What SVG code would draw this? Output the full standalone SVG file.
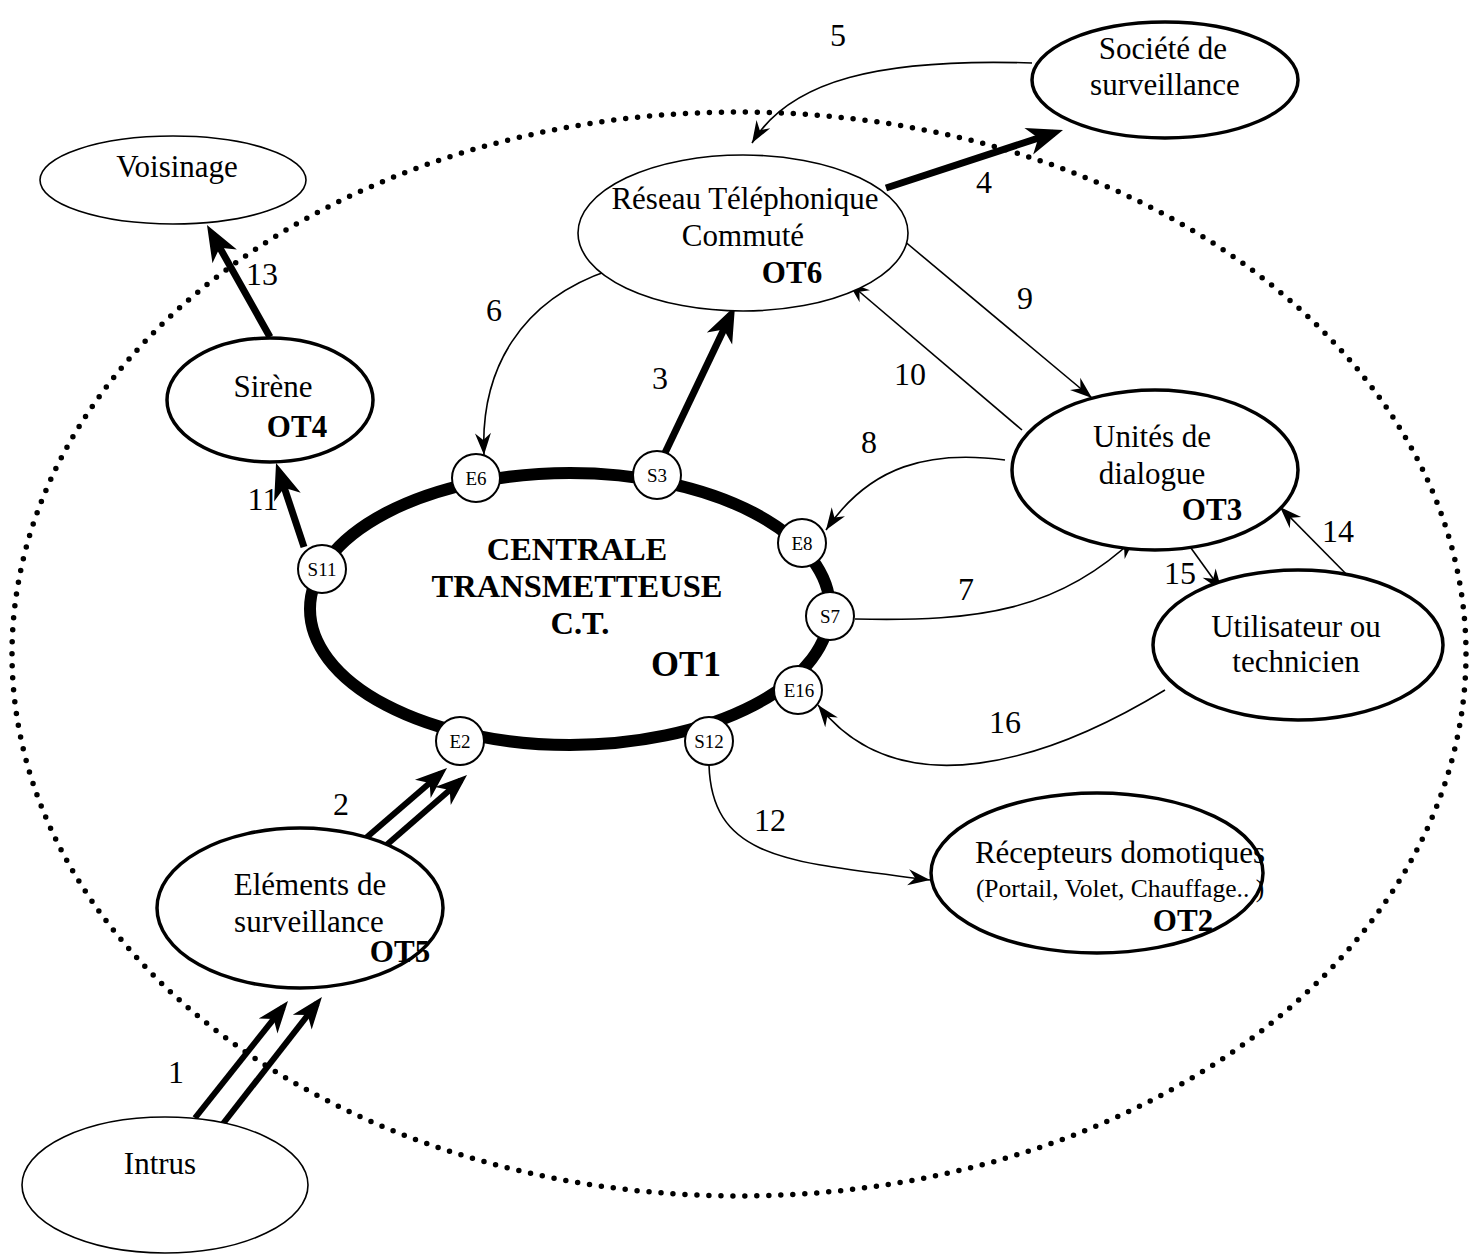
<svg xmlns="http://www.w3.org/2000/svg" width="1474" height="1257" viewBox="0 0 1474 1257">
<style>
text{font-family:"Liberation Serif","Times New Roman",serif;fill:#000;text-anchor:middle}
.t{font-size:31px}
.b{font-size:31px;font-weight:bold}
.c{font-size:32.5px;font-weight:bold}
.p{font-size:19px}
.n{font-size:32px}
.thin{fill:#fff;stroke:#000;stroke-width:1.6}
.thick{fill:#fff;stroke:#000;stroke-width:3.5}
.port{fill:#fff;stroke:#000;stroke-width:2}
.ln{fill:none;stroke:#000;stroke-width:1.6}
.tk{fill:none;stroke:#000;stroke-width:7}
.db{fill:none;stroke:#000;stroke-width:6}
</style>
<defs>
<marker id="ah" markerUnits="userSpaceOnUse" viewBox="-24 -10 26 20" markerWidth="26" markerHeight="20" refX="0" refY="0" orient="auto"><path d="M0,0 L-22,-8 L-15,0 L-22,8 Z" fill="#000"/></marker>
<marker id="ahk" markerUnits="userSpaceOnUse" viewBox="-30 -16 44 32" markerWidth="44" markerHeight="32" refX="0" refY="0" orient="auto"><path d="M10,0 L-26,-14 L-16,0 L-26,14 Z" fill="#000"/></marker>
<marker id="ahd" markerUnits="userSpaceOnUse" viewBox="-26 -13 36 26" markerWidth="36" markerHeight="26" refX="0" refY="0" orient="auto"><path d="M8,0 L-24,-12 L-15,0 L-24,12 Z" fill="#000"/></marker>
</defs>
<rect width="1474" height="1257" fill="#fff"/>
<ellipse cx="739" cy="654" rx="727" ry="542" fill="none" stroke="#000" stroke-width="5.5" stroke-dasharray="0 12" stroke-linecap="round"/>

<g id="connectors">
<path class="db" d="M195,1118 L283,1007.3" marker-end="url(#ahd)"/>
<path class="db" d="M222,1125 L317,1003.3" marker-end="url(#ahd)"/>
<path class="db" d="M352,850 L441,773.2" marker-end="url(#ahd)"/>
<path class="db" d="M375,855 L461,780.2" marker-end="url(#ahd)"/>
<path class="tk" d="M664,455 L730.7,315" marker-end="url(#ahk)"/>
<path class="tk" d="M886,188 L1053.5,133.1" marker-end="url(#ahk)"/>
<path class="tk" d="M304,547 L279.2,472.5" marker-end="url(#ahk)"/>
<path class="tk" d="M270,337 L211.9,233.7" marker-end="url(#ahk)"/>
<path class="ln" d="M1032,63 C880,58 790,80 752,143" marker-end="url(#ah)"/>
<path class="ln" d="M610,270 C520,300 480,370 484,455" marker-end="url(#ah)"/>
<path class="ln" d="M855,619 C980,622 1060,610 1135,538" marker-end="url(#ah)"/>
<path class="ln" d="M1005,460 C930,450 870,465 826,530" marker-end="url(#ah)"/>
<path class="ln" d="M903,240 L1092,398" marker-end="url(#ah)"/>
<path class="ln" d="M1022,430 L848,282" marker-end="url(#ah)"/>
<path class="ln" d="M709,765 C712,860 790,862 930,880" marker-end="url(#ah)"/>
<path class="ln" d="M1358,586 L1280,507" marker-end="url(#ah)"/>
<path class="ln" d="M1183,537 L1222,591" marker-end="url(#ah)"/>
<path class="ln" d="M1165,690 C1050,760 900,810 818,705" marker-end="url(#ah)"/>
<text class="n" x="176" y="1083">1</text>
<text class="n" x="341" y="815">2</text>
<text class="n" x="660" y="389">3</text>
<text class="n" x="984" y="193">4</text>
<text class="n" x="838" y="46">5</text>
<text class="n" x="494" y="321">6</text>
<text class="n" x="966" y="600">7</text>
<text class="n" x="869" y="453">8</text>
<text class="n" x="1025" y="309">9</text>
<text class="n" x="910" y="385">10</text>
<text class="n" x="263" y="510">11</text>
<text class="n" x="770" y="831">12</text>
<text class="n" x="262" y="285">13</text>
<text class="n" x="1338" y="542">14</text>
<text class="n" x="1180" y="584">15</text>
<text class="n" x="1005" y="733">16</text>
</g>

<g id="societe">
<ellipse class="thick" cx="1165" cy="80" rx="133" ry="58"/>
<text class="t" x="1163" y="59">Société de</text>
<text class="t" x="1165" y="95">surveillance</text>
</g>
<g id="voisinage">
<ellipse class="thin" cx="173" cy="180" rx="133" ry="44"/>
<text class="t" x="177" y="177">Voisinage</text>
</g>
<g id="rtc">
<ellipse class="thin" cx="743" cy="233" rx="165" ry="78"/>
<text class="t" x="745" y="209">Réseau Téléphonique</text>
<text class="t" x="743" y="246">Commuté</text>
<text class="b" x="792" y="283">OT6</text>
</g>
<g id="sirene">
<ellipse class="thick" cx="270" cy="400" rx="103" ry="62"/>
<text class="t" x="273" y="397">Sirène</text>
<text class="b" x="297" y="437">OT4</text>
</g>
<g id="unites">
<ellipse class="thick" cx="1155" cy="470" rx="143" ry="80"/>
<text class="t" x="1152" y="447">Unités de</text>
<text class="t" x="1152" y="484">dialogue</text>
<text class="b" x="1212" y="520">OT3</text>
</g>
<g id="utilisateur">
<ellipse class="thick" cx="1298" cy="645" rx="145" ry="75"/>
<text class="t" x="1296" y="637">Utilisateur ou</text>
<text class="t" x="1296" y="672">technicien</text>
</g>
<g id="recepteurs">
<ellipse class="thick" cx="1097" cy="873" rx="166" ry="80"/>
<text class="t" x="1120" y="863">Récepteurs domotiques</text>
<text x="1120" y="897" style="font-size:25.5px">(Portail, Volet, Chauffage.. )</text>
<text class="b" x="1183" y="931">OT2</text>
</g>
<g id="elements">
<ellipse class="thick" cx="300" cy="908" rx="143" ry="80"/>
<text class="t" x="310" y="895">Eléments de</text>
<text class="t" x="309" y="932">surveillance</text>
<text class="b" x="400" y="962">OT5</text>
</g>
<g id="intrus">
<ellipse class="thin" cx="165" cy="1185" rx="143" ry="68"/>
<text class="t" x="160" y="1174">Intrus</text>
</g>
<g id="centrale">
<ellipse cx="570" cy="609" rx="260" ry="136" fill="none" stroke="#000" stroke-width="12"/>
<text class="c" x="577" y="560">CENTRALE</text>
<text class="c" x="577" y="597">TRANSMETTEUSE</text>
<text class="c" x="580" y="634">C.T.</text>
<text x="686" y="676" style="font-size:36px;font-weight:bold">OT1</text>
</g>
<g id="port-E6"><circle class="port" cx="476" cy="478" r="24"/><text class="p" x="476" y="485">E6</text></g>
<g id="port-S3"><circle class="port" cx="657" cy="475" r="24"/><text class="p" x="657" y="482">S3</text></g>
<g id="port-E8"><circle class="port" cx="802" cy="543" r="24"/><text class="p" x="802" y="550">E8</text></g>
<g id="port-S7"><circle class="port" cx="830" cy="616" r="24"/><text class="p" x="830" y="623">S7</text></g>
<g id="port-E16"><circle class="port" cx="798" cy="690" r="24"/><text class="p" x="799" y="697">E16</text></g>
<g id="port-S12"><circle class="port" cx="709" cy="741" r="24"/><text class="p" x="709" y="748">S12</text></g>
<g id="port-E2"><circle class="port" cx="460" cy="741" r="24"/><text class="p" x="460" y="748">E2</text></g>
<g id="port-S11"><circle class="port" cx="322" cy="569" r="24"/><text class="p" x="322" y="576">S11</text></g>
</svg>
